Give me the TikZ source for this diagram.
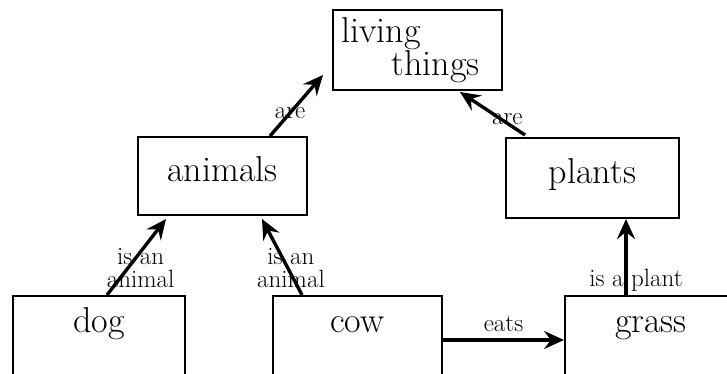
\documentclass[tikz,border=0pt]{standalone}
\usepackage{fontspec}
\usepackage{tikz}
\usetikzlibrary{arrows.meta,positioning,calc}

\tikzset{
	frame/.style={draw,line width=2pt,font=\fontsize{36}{32}\selectfont},
	box/.style={frame,minimum width=169pt,minimum height=78pt,text height=22pt,text depth=12pt},
	lowbox/.style={box,minimum width=172pt,minimum height=88pt,text depth=38pt},
	link/.style={line width=3.4pt,-{Stealth[length=20pt,width=18pt,inset=7pt]}},
	lab/.style={font=\fontsize{25}{23}\selectfont,align=center,inner sep=0pt}
}

\begin{document}
\begin{tikzpicture}[x=1pt,y=-1pt]
	\useasboundingbox (0,0) rectangle (727,374);
	\clip (0,0) rectangle (727,374);
	\node[frame,minimum width=169pt,minimum height=80pt,text width=152pt,align=left] (living) at (417.5,50) {living\\\hspace*{50pt}things};
	\node[box] (animals) at (222.5,176) {animals};
	\node[box,minimum width=173pt,minimum height=80pt] (plants) at (592.5,178) {plants};
	\node[lowbox] (dog) at (99,340) {dog};
	\node[lowbox,minimum width=169pt] (cow) at (357.5,340) {cow};
	\node[lowbox] (grass) at (651,340) {grass};
	\coordinate (gtail) at ([xshift=-25pt]grass.north);
	\draw[link] ([xshift=8pt]dog.north) -- ([xshift=-56.5pt,yshift=-3pt]animals.south) node[lab,pos=0.35,xshift=13pt]{is an\\animal};
	\draw[link] ([xshift=-55.5pt]cow.north) -- ([xshift=39.5pt,yshift=-3pt]animals.south) node[lab,pos=0.35,xshift=3pt]{is an\\animal};
	\draw[link] ([xshift=47.5pt]animals.north) -- ([xshift=-9pt,yshift=16pt]living.south west) node[lab,pos=0.38]{are};
	\draw[link] ([xshift=-67.5pt,yshift=2pt]plants.north) -- ([xshift=42.5pt,yshift=-1pt]living.south) node[lab,pos=0.38,xshift=7pt]{are};
	\draw[link] (cow.east) -- (grass.west) node[lab,midway,above=7pt]{eats};
	\draw[link] (gtail) -- (gtail |- plants.south) node[lab,pos=0.19,xshift=10pt]{is a plant};
\end{tikzpicture}
\end{document}
